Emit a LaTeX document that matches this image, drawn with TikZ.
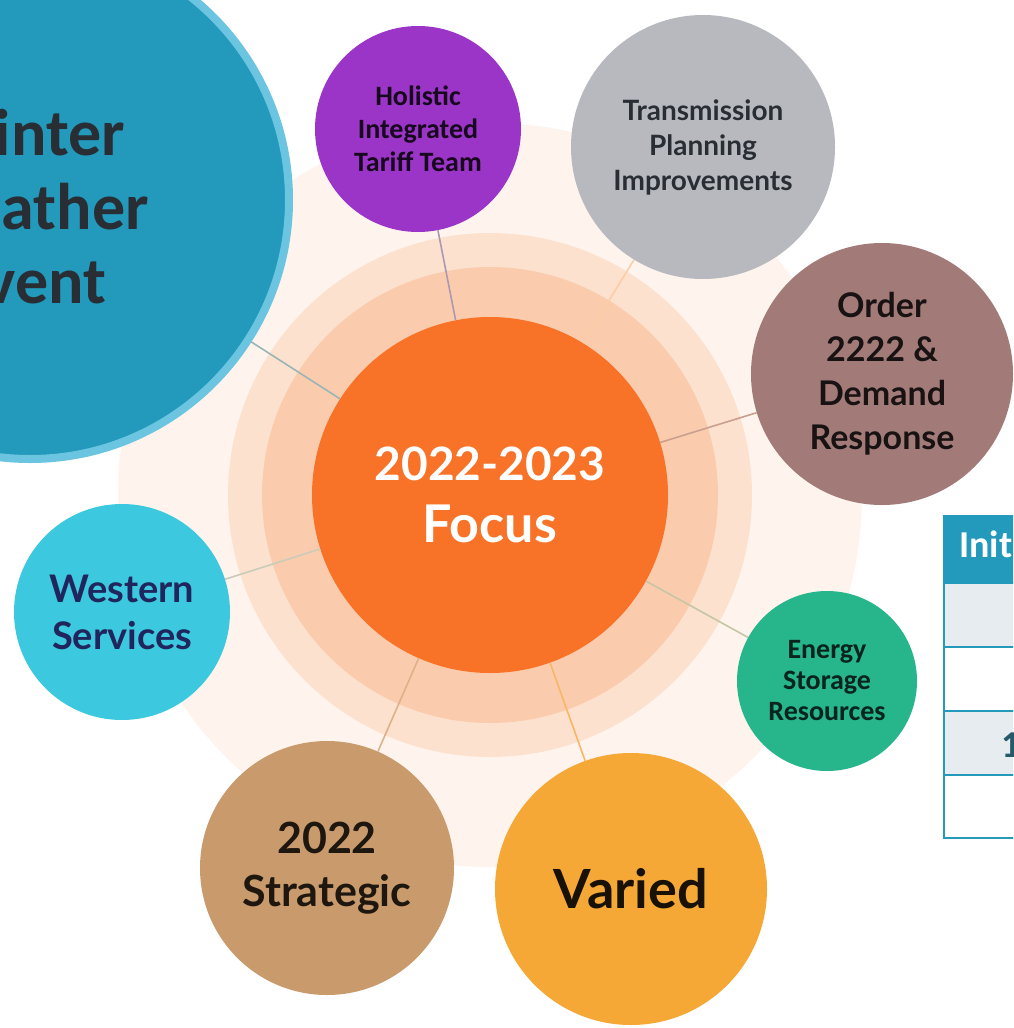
\documentclass[tikz,border=0pt]{standalone}
\usepackage{fontspec}
\setmainfont{Lato}
\newfontfamily\carlito{Carlito}
\definecolor{halo}{RGB}{254, 244, 237}
\definecolor{ringout}{RGB}{252, 225, 206}
\definecolor{ringin}{RGB}{250, 204, 173}
\definecolor{focus}{RGB}{248, 114, 40}
\definecolor{winter}{RGB}{35, 153, 188}
\definecolor{winterrim}{RGB}{108, 197, 224}
\definecolor{ink}{RGB}{40, 46, 52}
\definecolor{holistic}{RGB}{155, 53, 199}
\definecolor{transmission}{RGB}{184, 185, 191}
\definecolor{order}{RGB}{162, 123, 121}
\definecolor{energy}{RGB}{39, 181, 140}
\definecolor{varied}{RGB}{246, 168, 54}
\definecolor{strategic}{RGB}{201, 155, 108}
\definecolor{western}{RGB}{60, 200, 222}
\definecolor{rowgray}{RGB}{230, 236, 239}

\tikzset{
  topic/.style={circle, inner sep=0pt, minimum size=#1, align=center, text=ink},
  spoke/.style={line width=1.6pt, draw=#1},
  tableline/.style={draw=winter, line width=2pt}
}

\begin{document}
\begin{tikzpicture}[x=1pt, y=-1pt]
  \useasboundingbox (0, 0) rectangle (1013, 1028);
  \clip (0, 0) rectangle (1013, 1028);
  \fill[white] (0, 0) rectangle (1013, 1028);

  % rings round the focus
  \fill[halo] (490, 495) circle (372pt);
  \fill[ringout] (490, 495) circle (262pt);
  \fill[ringin] (490, 495) circle (228pt);

  \node[topic=356pt, fill=focus, text=white, font=\bfseries\fontsize{52}{62}\selectfont]
    (focus) at (490, 495)
    {{\fontsize{46}{62}\selectfont 2022-2023}\\Focus};

  \node[topic=518pt, fill=winter, draw=winterrim, line width=8pt] (winter) at (30, 200) {};
  \node[align=center, inner sep=0pt, text=ink,
    font=\carlito\bfseries\fontsize{66}{74}\selectfont] (winterlabel) at (30, 207)
    {Winter\\Weather\\Event};

  \node[topic=206pt, fill=holistic, text=black!85!holistic,
    font=\carlito\bfseries\fontsize{28}{33}\selectfont] (tariff) at (418, 129)
    {Holistic\\Integrated\\Tariff Team};
  \node[topic=264pt, fill=transmission,
    font=\bfseries\fontsize{28}{35}\selectfont] (transmission) at (703, 147)
    {Transmission\\Planning\\Improvements};
  \node[topic=262pt, fill=order, text=black!85!order,
    font=\bfseries\fontsize{34}{44}\selectfont] (order) at (882, 374)
    {Order\\2222 \&\\Demand\\Response};
  \node[topic=180pt, fill=energy, text=black!80!energy,
    font=\carlito\bfseries\fontsize{28}{31}\selectfont] (storage) at (827, 681)
    {Energy\\Storage\\Resources};
  \node[topic=272pt, fill=varied, text=black!90!varied,
    font=\bfseries\fontsize{54}{60}\selectfont] (varied) at (631, 889)
    {Varied};
  \node[topic=254pt, fill=strategic, text=black!85!strategic,
    font=\bfseries\fontsize{43}{53}\selectfont] (strategic) at (327, 868)
    {2022\\Strategic};
  \node[topic=216pt, fill=western, text=ink!80!blue,
    font=\bfseries\fontsize{38}{47}\selectfont] (western) at (122, 612)
    {Western\\Services};

  \draw[spoke=winter!45!ringin] (focus) -- (winter);
  \draw[spoke=holistic!25!gray!70] (focus) -- (tariff);
  \draw[spoke=ringout!80!orange] (focus) -- (transmission);
  \draw[spoke=order!55!ringin] (focus) -- (order);
  \draw[spoke=energy!25!ringin] (focus) -- (storage);
  \draw[spoke=varied!60!ringin] (focus) -- (varied);
  \draw[spoke=strategic!55!ringin] (focus) -- (strategic);
  \draw[spoke=western!25!ringin] (focus) -- (western);

  % table cut off at the right edge
  \fill[winter] (944, 516) rectangle (1020, 583);
  \fill[rowgray] (944, 583) rectangle (1020, 647);
  \fill[rowgray] (944, 711) rectangle (1020, 775);
  \draw[tableline] (944, 516) rectangle (1020, 838);
  \foreach \y in {583, 647, 711, 775} {
    \draw[tableline] (944, \y) -- (1020, \y);
  }
  \node[anchor=base west, inner sep=0pt, text=white,
    font=\carlito\bfseries\fontsize{38}{38}\selectfont] (head) at (959, 557) {Init};
  \node[anchor=base west, inner sep=0pt, text=winter!40!ink,
    font=\carlito\bfseries\fontsize{38}{38}\selectfont] (count) at (1001, 757) {1};
\end{tikzpicture}
\end{document}
